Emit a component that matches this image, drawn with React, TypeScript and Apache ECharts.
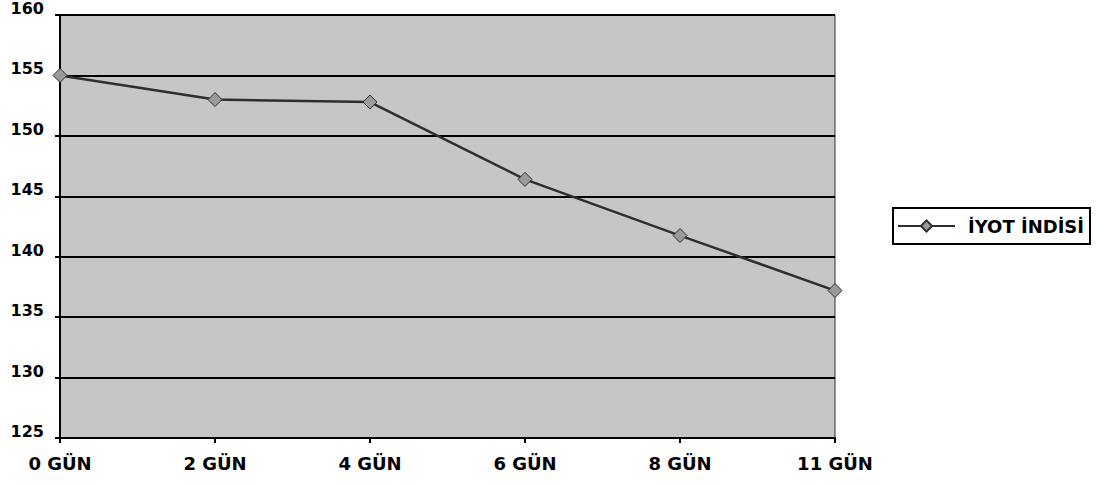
import React, { useEffect, useRef } from "react";
import * as echarts from "echarts";

const categories = ["0 GÜN", "2 GÜN", "4 GÜN", "6 GÜN", "8 GÜN", "11 GÜN"];
const iyotIndisi = [155.0, 153.0, 152.8, 146.4, 141.75, 137.2];
const seriesName = "İYOT İNDİSİ";

export default function App() {
  const ref = useRef<HTMLDivElement>(null);
  useEffect(() => {
    if (!ref.current) return;
    const chart = echarts.init(ref.current, null, { renderer: "svg" });
    chart.setOption({
      animation: false,
      backgroundColor: "#ffffff",
      textStyle: { fontFamily: "DejaVu Sans" },
      grid: {
        left: 60,
        right: 270,
        top: 15,
        bottom: 47,
        outerBoundsMode: "none",
        containLabel: false,
        show: true,
        backgroundColor: "#c6c6c6",
        borderColor: "#333",
        borderWidth: 1,
      },
      legend: {
        data: [seriesName],
        left: 893,
        top: 208,
        orient: "vertical",
        borderColor: "#000",
        borderWidth: 2,
        borderRadius: 0,
        padding: [9, 6, 9, 4],
        itemWidth: 57,
        itemHeight: 14,
        itemGap: 0,
        textStyle: {
          fontFamily: "DejaVu Sans",
          fontWeight: "bold",
          fontSize: 18,
          color: "#000",
          padding: [0, 0, 0, 8],
        },
      },
      xAxis: {
        type: "category",
        data: categories,
        boundaryGap: false,
        axisLine: { lineStyle: { color: "#000", width: 2 } },
        axisTick: { show: true, length: 5, lineStyle: { color: "#000", width: 2 } },
        axisLabel: {
          color: "#000",
          fontWeight: "bold",
          fontSize: 18,
          margin: 16,
          fontFamily: "DejaVu Sans",
        },
        splitLine: { show: false },
      },
      yAxis: {
        type: "value",
        min: 125,
        max: 160,
        interval: 5,
        axisLine: { show: true, lineStyle: { color: "#000", width: 2 } },
        axisTick: { show: true, length: 5, lineStyle: { color: "#000", width: 2 } },
        axisLabel: {
          color: "#000",
          fontWeight: "bold",
          fontSize: 16,
          margin: 16,
          verticalAlign: "bottom",
          lineHeight: 13,
          fontFamily: "DejaVu Sans",
        },
        splitLine: { show: true, lineStyle: { color: "#000", width: 2 } },
      },
      series: [
        {
          name: seriesName,
          type: "line",
          data: iyotIndisi,
          symbol: "diamond",
          symbolSize: 14,
          lineStyle: { color: "#2e2e2e", width: 2.5 },
          itemStyle: { color: "#9a9a9a", borderColor: "#2e2e2e", borderWidth: 1 },
        },
      ],
    });
    return () => chart.dispose();
  }, []);
  return (
    <div
      ref={ref}
      style={{ position: "absolute", left: 0, top: 0, width: 1105, height: 485 }}
    />
  );
}
